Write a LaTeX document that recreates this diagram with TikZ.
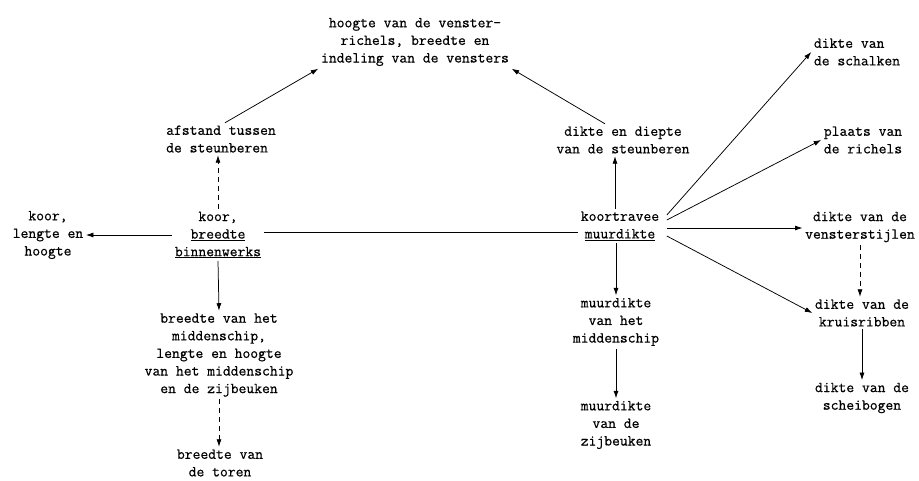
\documentclass[tikz,border=0pt]{standalone}
\usepackage{fontspec}
\newfontfamily\twfont{Latin Modern Mono}[FakeBold=0.6]
\usetikzlibrary{arrows.meta,calc}
\begin{document}
\begin{tikzpicture}[x=1pt,y=-1pt,
  lbl/.style={font={\twfont\fontsize{15.2}{17.6}\selectfont}, align=center, inner sep=2.5pt},
  lblL/.style={lbl, align=left},
  arr/.style={line width=0.75pt, -{Latex[length=7.5pt,width=5pt]}},
  darr/.style={arr, dash pattern=on 5pt off 4pt},
  plainln/.style={line width=0.75pt}]
\useasboundingbox (0,0) rectangle (919,480);

\node[lbl]  (T)  at (415,42)  {hoogte van de venster-\\richels, breedte en\\indeling van de vensters};
\node[lblL] (A)  at (221,139) {afstand tussen\\de steunberen};
\node[lbl]  (DD) at (623,140) {dikte en diepte\\van de steunberen};
\node[lblL] (S)  at (857,52)  {dikte van\\de schalken};
\node[lblL] (P)  at (863,140) {plaats van\\de richels};
\node[lbl]  (L)  at (48,235)  {koor,\\lengte en\\hoogte};
\node[lbl]  (K)  at (218,235) {koor,\\\underline{breedte}\\\underline{binnenwerks}};
\node[lbl]  (KT) at (620,226) {koortravee\\\underline{muurdikte}};
\node[lbl]  (V)  at (860,227) {dikte van de\\vensterstijlen};
\node[lbl]  (B)  at (219,355) {breedte van het\\middenschip,\\lengte en hoogte\\van het middenschip\\en de zijbeuken};
\node[lbl]  (BT) at (220,463) {breedte van\\de toren};
\node[lbl]  (MM) at (616,322) {muurdikte\\van het\\middenschip};
\node[lbl]  (MZ) at (616,425) {muurdikte\\van de\\zijbeuken};
\node[lbl]  (KR) at (862,313) {dikte van de\\kruisribben};
\node[lbl]  (SB) at (862,398) {dikte van de\\scheibogen};

\draw[arr] ([xshift=4pt]A.north) -- (T.south west);
\draw[arr] ([xshift=-18pt]DD.north) -- (T.south east);
\draw[darr] (K.north) -- (K.north |- A.south);
\draw[arr] (K.west) -- (L.east);
\draw[plainln] ([yshift=3pt]K.east) -- ([yshift=3pt]K.east -| KT.west);
\draw[arr] (K.south) -- (B.north);
\draw[darr] (B.south) -- (B.south |- BT.north);
\draw[arr] ([xshift=-5pt]KT.north) -- ([xshift=-5pt]KT.north |- DD.south);
\draw[arr] ([xshift=5pt,yshift=11pt]KT.east) -- (S.west);
\draw[arr] ([xshift=5pt,yshift=6pt]KT.east) -- (P.west);
\draw[arr] ([xshift=5pt,yshift=-2pt]KT.east) -- ([yshift=-2pt]KT.east -| V.west);
\draw[arr] ([xshift=5pt,yshift=-10pt]KT.east) -- (KR.west);
\draw[darr] (V.south) -- (V.south |- KR.north);
\draw[arr] (KR.south) -- (SB.north);
\draw[arr] ([xshift=-4pt]KT.south) -- ([xshift=-4pt]KT.south |- MM.north);
\draw[arr] (MM.south) -- (MZ.north);
\end{tikzpicture}
\end{document}
